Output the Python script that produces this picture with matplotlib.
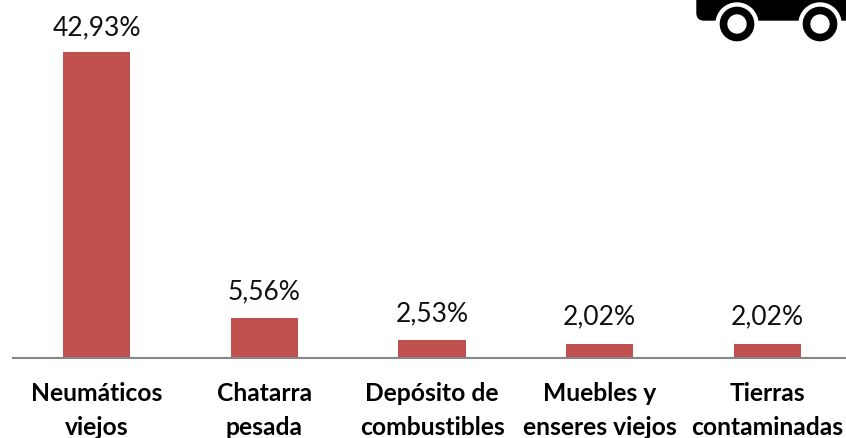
"""Bar chart of waste shares with a clipped truck icon"""
import matplotlib
matplotlib.use("Agg")
import matplotlib.pyplot as plt
from matplotlib.patches import Circle, FancyBboxPatch

CATEGORIES = [
    "Neumáticos\nviejos",
    "Chatarra\npesada",
    "Depósito de\ncombustibles",
    "Muebles y\nenseres viejos",
    "Tierras\ncontaminadas",
]
VALUES = [42.93, 5.56, 2.53, 2.02, 2.02]
LABELS = ["42,93%", "5,56%", "2,53%", "2,02%", "2,02%"]

plt.rcParams["font.family"] = ["Lato", "DejaVu Sans"]

W, H = 846, 438
fig = plt.figure(figsize=(W / 100, H / 100), dpi=100)
ax = fig.add_axes([13 / W, 1 - 358 / H, (846 - 13) / W, (358 - 20) / H])

xs = list(range(len(VALUES)))
ax.bar(xs, VALUES, width=0.4, color="#C0504D")
ax.set_xlim(-0.5, 4.47)
# baseline at y=358px, top bar at y=52px
ax.set_ylim(0, 42.93 * (338 / 306))

for i, (x, v, lab) in enumerate(zip(xs, VALUES, LABELS)):
    # tallest label sits a little closer to its bar
    offset = 8.5 if i == 0 else 10
    ax.annotate(lab, (x, v), xytext=(0, offset), textcoords="offset points",
                ha="center", va="bottom", fontsize=19, color="#111111")

for side in ["top", "left", "right"]:
    ax.spines[side].set_visible(False)
ax.spines["bottom"].set_color("#868686")
ax.spines["bottom"].set_linewidth(1.5)
ax.set_yticks([])
ax.set_xticks(xs)
ax.set_xticklabels(CATEGORIES, fontsize=17.7, fontweight="bold", linespacing=1.55,
                   color="#000000")
ax.tick_params(axis="x", length=0, pad=17.5)

# truck icon, cut by the top edge
icon = fig.add_axes([0, 0, 1, 1], facecolor="none")
icon.set_xlim(0, W)
icon.set_ylim(H, 0)
icon.axis("off")
icon.add_patch(FancyBboxPatch((702, -30), 180, 45, boxstyle="round,pad=5,rounding_size=7",
                              color="black"))
for cx in (737, 820):
    icon.add_patch(Circle((cx, 24), 21, color="white"))
    icon.add_patch(Circle((cx, 24), 13.5, facecolor="white", edgecolor="black", linewidth=5.5))

fig.savefig("out.png", dpi=100)
